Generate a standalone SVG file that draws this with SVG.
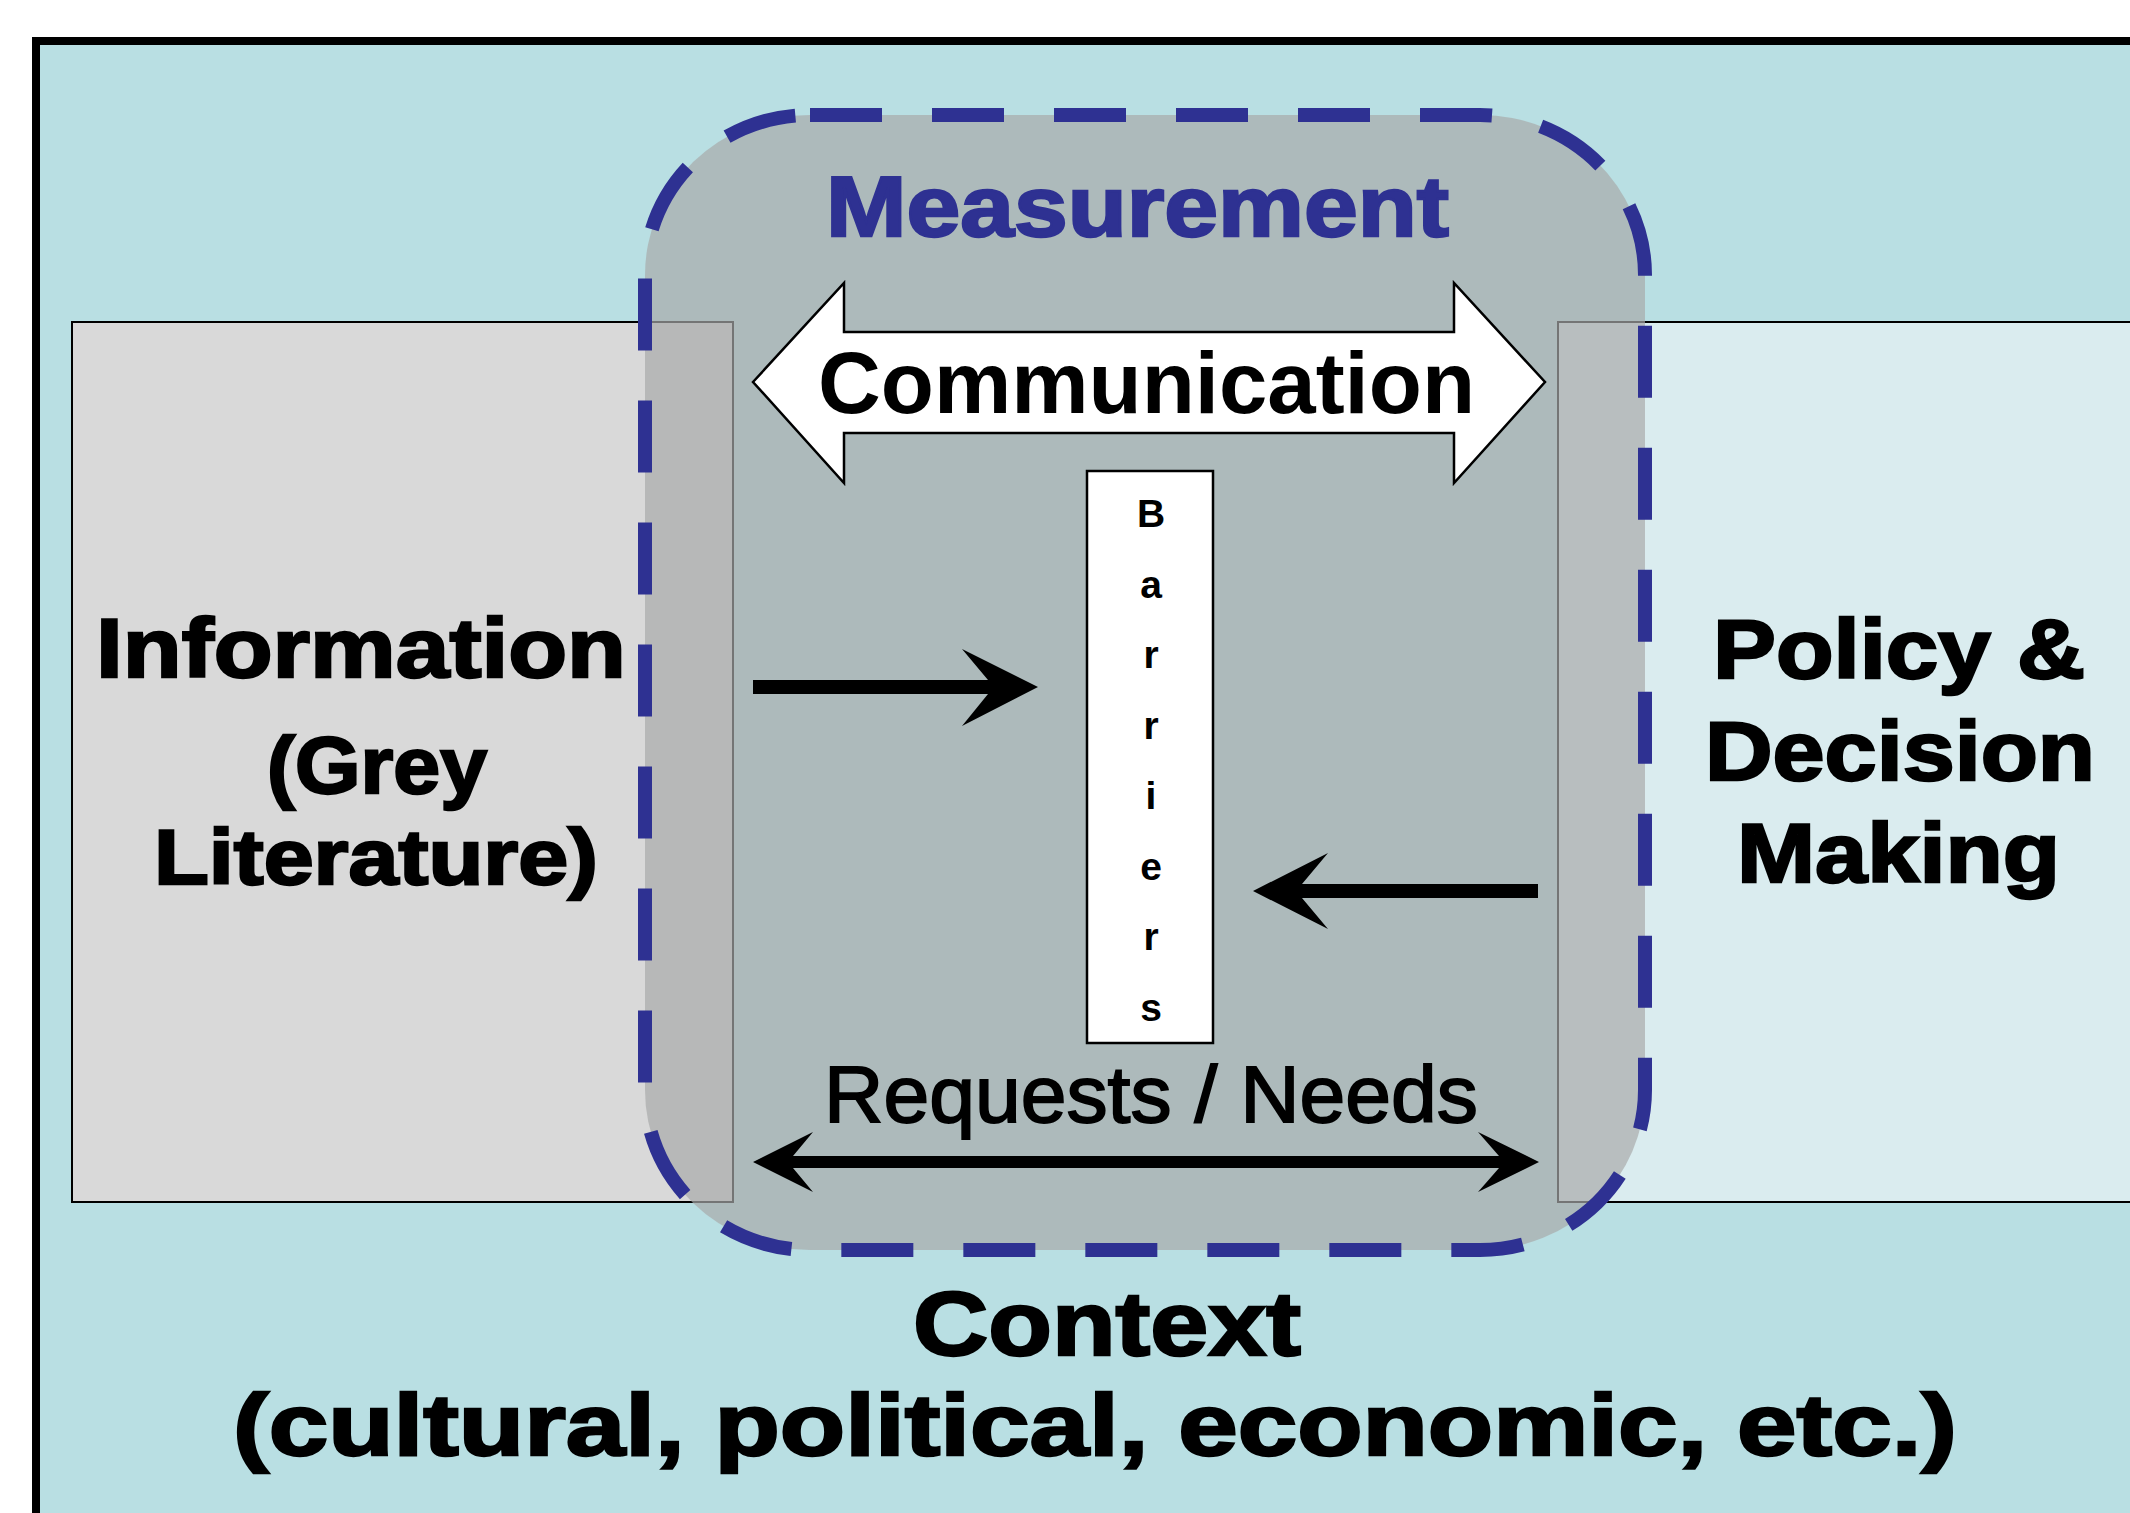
<svg xmlns="http://www.w3.org/2000/svg" width="2130" height="1513" viewBox="0 0 2130 1513">
<defs>
<style>
.heavy{font-family:"Liberation Sans",Arial,sans-serif;font-weight:bold;fill:#000;stroke:#000;stroke-width:2.4}
.bold{font-family:"Liberation Sans",Arial,sans-serif;font-weight:bold;fill:#000}
.reg{font-family:"Liberation Sans",Arial,sans-serif;font-weight:normal;fill:#000;stroke:#000;stroke-width:1.8}
.bar{font-family:"Liberation Sans",Arial,sans-serif;font-weight:bold;font-size:39px;fill:#000;text-anchor:middle}
.arrow{fill:#000;stroke:none}
</style>
</defs>
<rect x="0" y="0" width="2130" height="1513" fill="#ffffff"/>
<g id="context">
<rect x="36" y="41" width="2200" height="1600" fill="#B9DFE3" stroke="#000" stroke-width="8"/>
<text class="heavy" x="913" y="1355" font-size="90" textLength="388" lengthAdjust="spacingAndGlyphs">Context</text>
<text class="heavy" x="233" y="1455" font-size="88" textLength="1724" lengthAdjust="spacingAndGlyphs">(cultural, political, economic, etc.)</text>
</g>
<g id="information">
<rect x="72" y="322" width="661" height="880" fill="#D9D9D9" stroke="#000" stroke-width="2"/>
<text class="heavy" x="96" y="677" font-size="84" textLength="530" lengthAdjust="spacingAndGlyphs">Information</text>
<text class="heavy" x="267" y="793" font-size="80" textLength="220" lengthAdjust="spacingAndGlyphs">(Grey</text>
<text class="heavy" x="154" y="884" font-size="78" textLength="444" lengthAdjust="spacingAndGlyphs">Literature)</text>
</g>
<g id="policy">
<rect x="1558" y="322" width="700" height="880" fill="#DAECEF" stroke="#000" stroke-width="2"/>
<text class="heavy" x="1713" y="678" font-size="84" textLength="372" lengthAdjust="spacingAndGlyphs">Policy &amp;</text>
<text class="heavy" x="1705" y="780" font-size="84" textLength="390" lengthAdjust="spacingAndGlyphs">Decision</text>
<text class="heavy" x="1737" y="882" font-size="84" textLength="323" lengthAdjust="spacingAndGlyphs">Making</text>
</g>
<g id="measurement">
<rect x="645" y="115" width="1000" height="1135" rx="165" ry="160" fill="#A8AAAA" fill-opacity="0.69"/>
<rect x="645" y="115" width="1000" height="1135" rx="165" ry="160" fill="none" stroke="#2E3192" stroke-width="14" stroke-dasharray="72 50"/>
<text x="826" y="236" font-size="85" textLength="623" lengthAdjust="spacingAndGlyphs" style="font-family:'Liberation Sans',Arial,sans-serif;font-weight:bold;fill:#2E3192;stroke:#2E3192;stroke-width:2.4">Measurement</text>
</g>
<g id="communication">
<path d="M753,382 L844,283 V332 H1454 V283 L1545,382 L1454,483 V433 H844 V483 Z" fill="#fff" stroke="#000" stroke-width="2.5" stroke-linejoin="miter"/>
<text class="bold" x="818" y="413" font-size="88" textLength="657" lengthAdjust="spacingAndGlyphs">Communication</text>
</g>
<g id="barriers">
<rect x="1087" y="471" width="126" height="572" fill="#fff" stroke="#000" stroke-width="2.5"/>
<text class="bar" x="1151" y="527">B</text>
<text class="bar" x="1151" y="598">a</text>
<text class="bar" x="1151" y="668">r</text>
<text class="bar" x="1151" y="739">r</text>
<text class="bar" x="1151" y="809">i</text>
<text class="bar" x="1151" y="880">e</text>
<text class="bar" x="1151" y="950">r</text>
<text class="bar" x="1151" y="1021">s</text>
</g>
<g id="requests">
<text class="reg" x="824" y="1122" font-size="80" textLength="654" lengthAdjust="spacingAndGlyphs">Requests / Needs</text>
</g>
<g id="connectors">
<path class="arrow" d="M753,680 H988 L962,649 L1038,687 L962,726 L988,694 H753 Z"/>
<path class="arrow" d="M1538,884 H1302 L1328,853 L1253,891 L1328,929 L1302,898 H1538 Z"/>
<path class="arrow" d="M753,1162 L813,1132 L793,1156 H1499 L1478,1132 L1539,1162 L1478,1192 L1499,1168 H793 L813,1192 Z"/>
</g>
</svg>
